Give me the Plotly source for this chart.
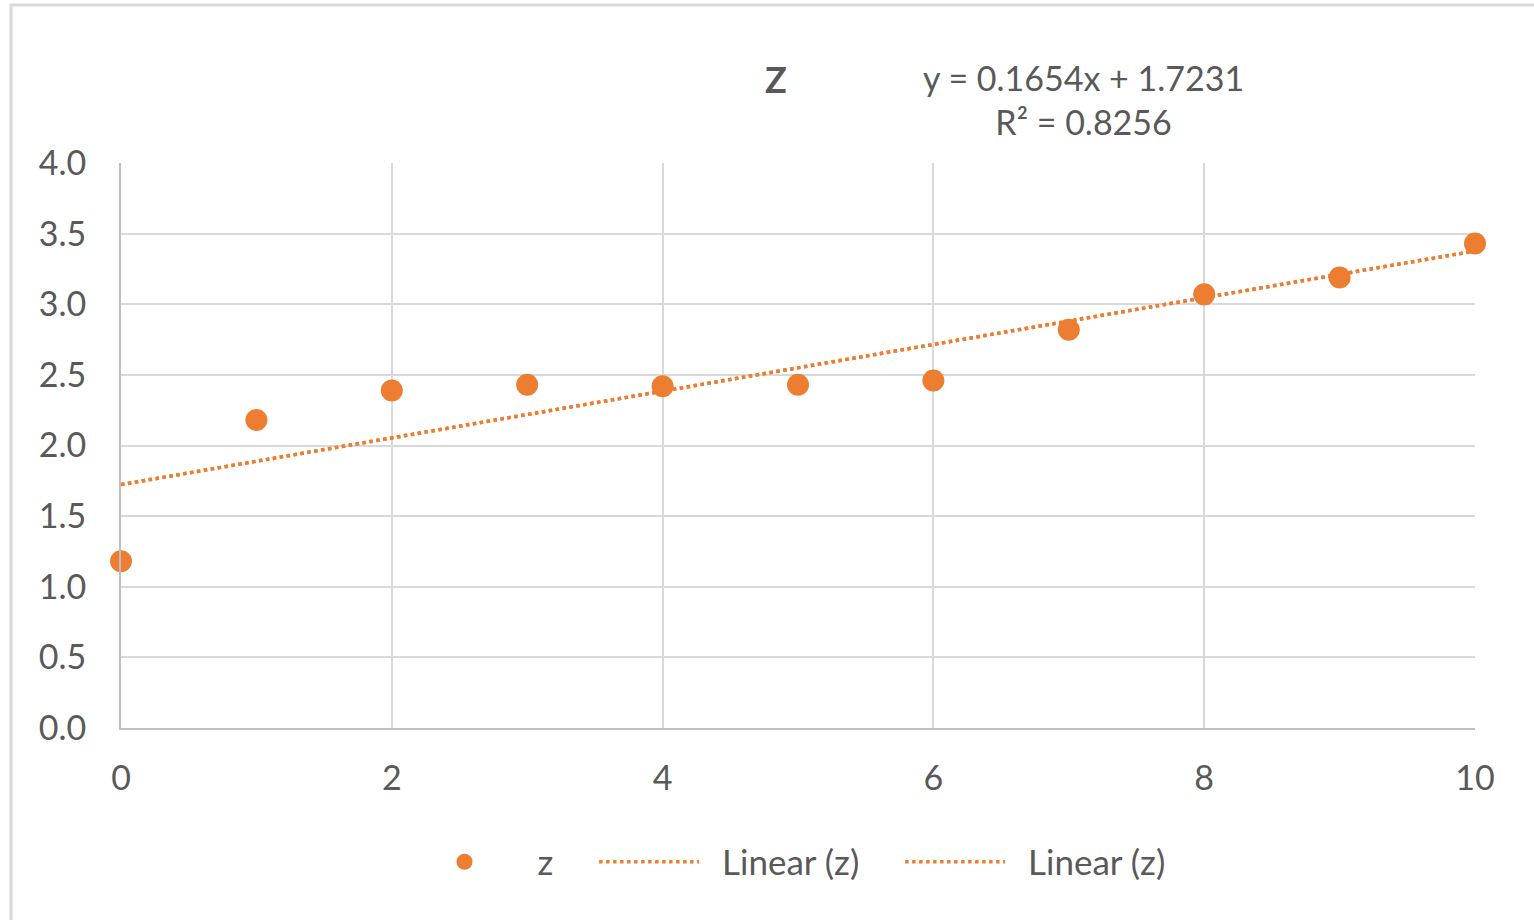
import plotly.graph_objects as go

x_vals = [0, 1, 2, 3, 4, 5, 6, 7, 8, 9, 10]
z_vals = [1.18, 2.18, 2.39, 2.43, 2.42, 2.43, 2.46, 2.82, 3.07, 3.19, 3.43]
slope = 0.1654
intercept = 1.7231
r_squared = 0.8256
trend_x = [0, 10]
trend_y = [intercept + slope * v for v in trend_x]
series_name = "z"
trend_name = "Linear (z)"

ORANGE = "#ED7D31"
TXT = "#595959"
GRID = "#D9D9D9"
FONT = "Lato"
NB = "\u00a0"

W, H = 1534, 920
L, R, T, B = 121, 59, 163, 192
pw, ph = W - L - R, H - T - B

def px_x(p):
    return (p - L) / pw

def px_y(p):
    return (H - B - p) / ph

fig = go.Figure()
fig.add_trace(go.Scatter(x=x_vals, y=z_vals, mode="markers", name=NB * 2 + series_name + NB * 4,
                         cliponaxis=False,
                         marker=dict(color=ORANGE, size=22, line=dict(width=0))))
for i in range(2):
    fig.add_trace(go.Scatter(x=trend_x, y=trend_y, mode="lines",
                             name=NB * 2 + trend_name + (NB * 4 if i == 0 else ""),
                             line=dict(color=ORANGE, width=3.5, dash="dot")))

fig.add_annotation(
    xref="paper", yref="paper", x=px_x(1083), y=px_y(99),
    text=f"y = {slope}x + {intercept}<br>R² = {r_squared}",
    showarrow=False, align="center", xanchor="center", yanchor="middle",
    font=dict(family=FONT, size=34, color=TXT))

fig.add_shape(type="rect", xref="paper", yref="paper",
              x0=px_x(11), x1=px_x(1545), y0=px_y(935), y1=px_y(5),
              line=dict(color=GRID, width=3), fillcolor="rgba(0,0,0,0)", layer="below")

fig.update_layout(
    width=W, height=H,
    margin=dict(l=L, r=R, t=T, b=B),
    paper_bgcolor="white", plot_bgcolor="white",
    font=dict(family=FONT, size=34, color=TXT),
    title=dict(text="<b>Z</b>", x=px_x(776), xanchor="center", xref="paper",
               y=1 - 80 / H, yanchor="middle", font=dict(family=FONT, size=36, color=TXT)),
    showlegend=True,
    legend=dict(orientation="h", x=px_x(790), xanchor="center", y=px_y(862), yanchor="middle",
                font=dict(family=FONT, size=35, color=TXT), itemwidth=100,
                bgcolor="rgba(0,0,0,0)"),
    xaxis=dict(range=[0, 10], tickvals=[0, 2, 4, 6, 8, 10], showgrid=True, gridcolor=GRID, gridwidth=2,
               zeroline=False, showline=True, linecolor="#BFBFBF", linewidth=2,
               ticks="", ticklabelstandoff=19, tickfont=dict(family=FONT, size=34, color=TXT)),
    yaxis=dict(range=[0, 4], tickvals=[0, 0.5, 1, 1.5, 2, 2.5, 3, 3.5, 4], tickformat=".1f",
               showgrid=True, gridcolor=GRID, gridwidth=2,
               zeroline=False, showline=True, linecolor="#BFBFBF", linewidth=2,
               ticks="", ticklabelstandoff=26, tickfont=dict(family=FONT, size=34, color=TXT)),
)

fig.write_html("out.html")
